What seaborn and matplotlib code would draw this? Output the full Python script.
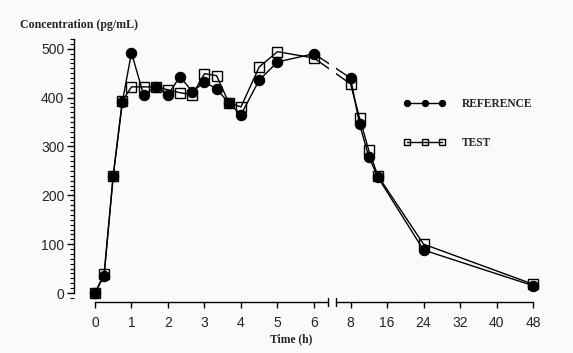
import numpy as np
import pandas as pd
import matplotlib
matplotlib.use("Agg")
import matplotlib.pyplot as plt
from matplotlib.ticker import MultipleLocator, FixedLocator
import seaborn as sns

# sampling times (h) and mean concentrations (pg/mL)
time_h = [0, 0.25, 0.5, 0.75, 1, 1.33, 1.67, 2, 2.33, 2.67, 3, 3.33, 3.67,
          4, 4.5, 5, 6, 8, 10, 12, 14, 24, 48]
reference = [0, 35, 240, 391, 492, 406, 422, 406, 443, 412, 432, 418, 389,
             365, 436, 473, 490, 440, 345, 279, 237, 88, 15]
test = [0, 39, 240, 393, 422, 422, 422, 416, 410, 406, 449, 445, 389,
        381, 463, 494, 481, 428, 358, 292, 240, 100, 18]
x_ticks = [0, 1, 2, 3, 4, 5, 6, 8, 16, 24, 32, 40, 48]

df = pd.DataFrame({"time": time_h + time_h,
                   "conc": reference + test,
                   "group": ["REFERENCE"] * len(time_h) + ["TEST"] * len(time_h)})


# broken time axis: 0-6 h stretched, 8-48 h compressed
def fwd(t):
    t = np.asarray(t, dtype=float)
    return np.where(t <= 6, t, np.where(t <= 8, 6 + (t - 6) / 2, 7 + (t - 8) / 8))


def inv(u):
    u = np.asarray(u, dtype=float)
    return np.where(u <= 6, u, np.where(u <= 7, 6 + (u - 6) * 2, 8 + (u - 7) * 8))


bg = "#fafafa"
sns.set_style("white")
plt.rcParams["font.family"] = ["Liberation Sans", "DejaVu Sans"]

fig = plt.figure(figsize=(5.73, 3.53), dpi=100, facecolor=bg)
ax = fig.add_axes([0.1291, 0.1445, 0.8394, 0.745])
ax.set_facecolor(bg)

sns.lineplot(data=df[df.group == "REFERENCE"], x="time", y="conc", ax=ax,
             color="black", lw=1, marker="o", markersize=7.5,
             markerfacecolor="black", markeredgecolor="black",
             label="REFERENCE", zorder=3)
sns.lineplot(data=df[df.group == "TEST"], x="time", y="conc", ax=ax,
             color="black", lw=1, marker="s", markersize=7.5,
             markerfacecolor="none", markeredgecolor="black", markeredgewidth=1,
             label="TEST", zorder=4)

ax.set_xscale("function", functions=(fwd, inv))
ax.set_xlim(-0.575, 52.8)
ax.set_ylim(-18.4, 520)

# gap in the curves at the axis break
ax.axvspan(6.8, 7.2, ymin=0.05, ymax=1, color=bg, lw=0, zorder=5)

ax.xaxis.set_major_locator(FixedLocator(x_ticks))
ax.set_xticklabels([str(t) for t in x_ticks])
ax.yaxis.set_major_locator(MultipleLocator(100))
ax.yaxis.set_minor_locator(MultipleLocator(10))
ax.xaxis.set_minor_locator(FixedLocator([]))

for s in ["top", "right", "bottom"]:
    ax.spines[s].set_visible(False)
ax.spines["left"].set_bounds(0, 520)
ax.spines["left"].set_linewidth(1)
ax.spines["left"].set_color("black")

# bottom axis line with break
xt = ax.get_xaxis_transform()
ax.plot([0, 6.76], [0, 0], color="black", lw=1, transform=xt, clip_on=False)
ax.plot([7.2, 48], [0, 0], color="black", lw=1, transform=xt, clip_on=False)
for b in [6.76, 7.2]:
    ax.plot([b, b], [-0.016, 0.016], color="black", lw=1, transform=xt,
            clip_on=False, zorder=6)

ax.tick_params(axis="x", which="major", direction="out", length=4, width=1,
               pad=6, labelsize=10, color="black", bottom=True)
ax.tick_params(axis="y", which="major", direction="out", length=5, width=1,
               pad=2, labelsize=10, color="black", left=True)
ax.tick_params(axis="y", which="minor", direction="out", length=3, width=0.8,
               color="black", left=True)
ax.set_xlabel("")
ax.set_ylabel("")

fig.text(0.035, 0.929, "Concentration (pg/mL)", family="Liberation Serif",
         fontsize=8.6, fontweight="bold", va="center", ha="left")
fig.text(291 / 573, 1 - 339 / 353, "Time (h)", family="Liberation Serif",
         fontsize=8.4, fontweight="bold", va="center", ha="center")

leg = ax.legend(loc="center left", bbox_to_anchor=(0.705, 0.650),
                bbox_transform=fig.transFigure, frameon=False,
                prop={"family": "Liberation Serif", "weight": "bold", "size": 8.3},
                numpoints=3, markerscale=0.6, handlelength=3.6,
                handletextpad=1.4, labelspacing=2.4, borderpad=0, borderaxespad=0)

fig.savefig("out.png", dpi=100, facecolor=fig.get_facecolor())
